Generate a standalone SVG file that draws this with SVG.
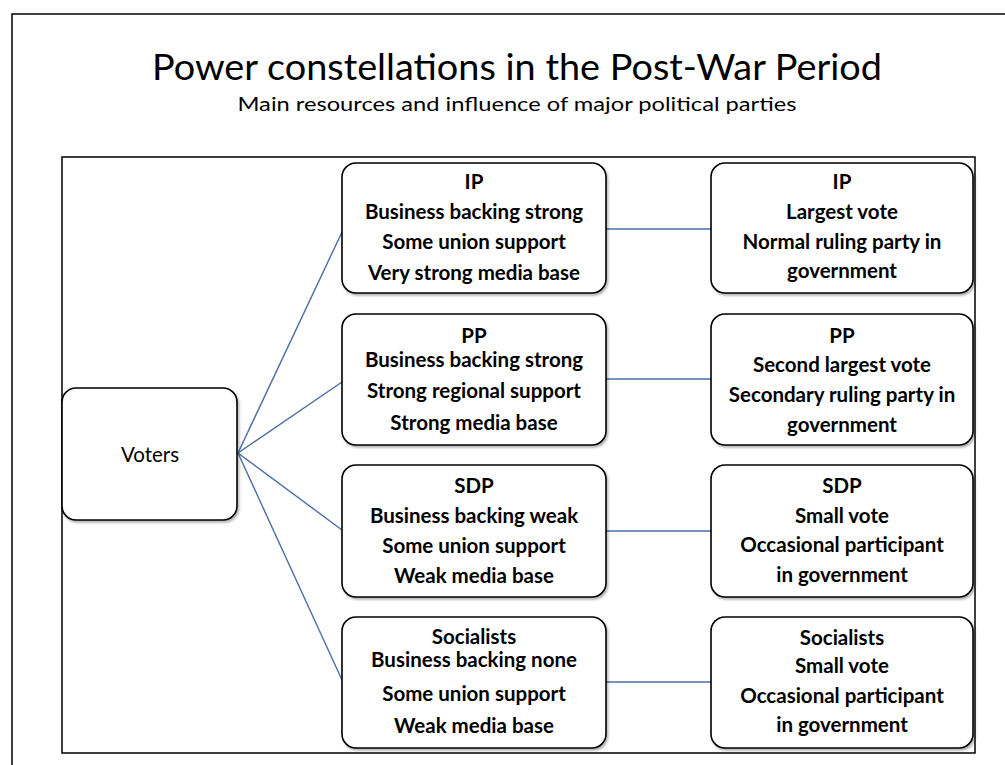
<svg xmlns="http://www.w3.org/2000/svg" width="1005" height="765" viewBox="0 0 1005 765">
<style>
.frame{fill:none;stroke:#000;stroke-width:1.5}
.box{fill:#fff;stroke:#000;stroke-width:1.6;filter:url(#sh)}
.t{font-family:Lato,"Open Sans",sans-serif;font-size:20.5px;font-weight:bold;fill:#000;text-anchor:middle}
.r{font-family:Lato,"Open Sans",sans-serif;font-size:20.5px;fill:#000;text-anchor:middle}
.c{stroke:#4a6fa5;stroke-width:1.4;fill:none}
</style>
<defs>
<filter id="sh" x="-10%" y="-10%" width="120%" height="130%">
<feDropShadow dx="1.5" dy="2" stdDeviation="1.2" flood-color="#000" flood-opacity="0.3"/>
</filter>
</defs>
<rect width="1005" height="765" fill="#fff"/>
<path class="frame" d="M12,765 V14 H1005"/>
<text x="517" y="80" font-family="Lato,'Open Sans',sans-serif" font-size="37" text-anchor="middle" textLength="730" lengthAdjust="spacingAndGlyphs">Power constellations in the Post-War Period</text>
<text x="517" y="111" font-family="Lato,'Open Sans',sans-serif" font-size="19.5" text-anchor="middle" textLength="559" lengthAdjust="spacingAndGlyphs">Main resources and influence of major political parties</text>
<rect class="frame" x="62" y="157" width="913" height="596"/>
<g id="connectors">
<line class="c" x1="238" y1="453" x2="342" y2="232"/>
<line class="c" x1="238" y1="453" x2="342" y2="382"/>
<line class="c" x1="238" y1="453" x2="342" y2="530"/>
<line class="c" x1="238" y1="453" x2="342" y2="680"/>
<line class="c" x1="606" y1="229" x2="711" y2="229"/>
<line class="c" x1="606" y1="379" x2="711" y2="379"/>
<line class="c" x1="606" y1="531" x2="711" y2="531"/>
<line class="c" x1="606" y1="682" x2="711" y2="682"/>
</g>
<g id="voters">
<rect class="box" x="62" y="388" width="175" height="132" rx="14"/>
<text class="r" x="150" y="462">Voters</text>
</g>
<g id="ip-resources">
<rect class="box" x="342" y="163" width="264" height="130" rx="14"/>
<text class="t" x="474" y="189">IP</text>
<text class="t" x="474" y="219">Business backing strong</text>
<text class="t" x="474" y="249">Some union support</text>
<text class="t" x="474" y="280">Very strong media base</text>
</g>
<g id="pp-resources">
<rect class="box" x="342" y="314" width="264" height="131" rx="14"/>
<text class="t" x="474" y="343">PP</text>
<text class="t" x="474" y="367">Business backing strong</text>
<text class="t" x="474" y="398">Strong regional support</text>
<text class="t" x="474" y="430">Strong media base</text>
</g>
<g id="sdp-resources">
<rect class="box" x="342" y="465" width="264" height="132" rx="14"/>
<text class="t" x="474" y="493">SDP</text>
<text class="t" x="474" y="523">Business backing weak</text>
<text class="t" x="474" y="553">Some union support</text>
<text class="t" x="474" y="583">Weak media base</text>
</g>
<g id="socialists-resources">
<rect class="box" x="342" y="617" width="264" height="131" rx="14"/>
<text class="t" x="474" y="644">Socialists</text>
<text class="t" x="474" y="667">Business backing none</text>
<text class="t" x="474" y="701">Some union support</text>
<text class="t" x="474" y="733">Weak media base</text>
</g>
<g id="ip-influence">
<rect class="box" x="711" y="163" width="262" height="130" rx="14"/>
<text class="t" x="842" y="189">IP</text>
<text class="t" x="842" y="219">Largest vote</text>
<text class="t" x="842" y="249">Normal ruling party in</text>
<text class="t" x="842" y="278">government</text>
</g>
<g id="pp-influence">
<rect class="box" x="711" y="314" width="262" height="131" rx="14"/>
<text class="t" x="842" y="343">PP</text>
<text class="t" x="842" y="372">Second largest vote</text>
<text class="t" x="842" y="402">Secondary ruling party in</text>
<text class="t" x="842" y="432">government</text>
</g>
<g id="sdp-influence">
<rect class="box" x="711" y="465" width="262" height="132" rx="14"/>
<text class="t" x="842" y="493">SDP</text>
<text class="t" x="842" y="523">Small vote</text>
<text class="t" x="842" y="552">Occasional participant</text>
<text class="t" x="842" y="582">in government</text>
</g>
<g id="socialists-influence">
<rect class="box" x="711" y="617" width="262" height="131" rx="14"/>
<text class="t" x="842" y="645">Socialists</text>
<text class="t" x="842" y="673">Small vote</text>
<text class="t" x="842" y="703">Occasional participant</text>
<text class="t" x="842" y="732">in government</text>
</g>
</svg>
